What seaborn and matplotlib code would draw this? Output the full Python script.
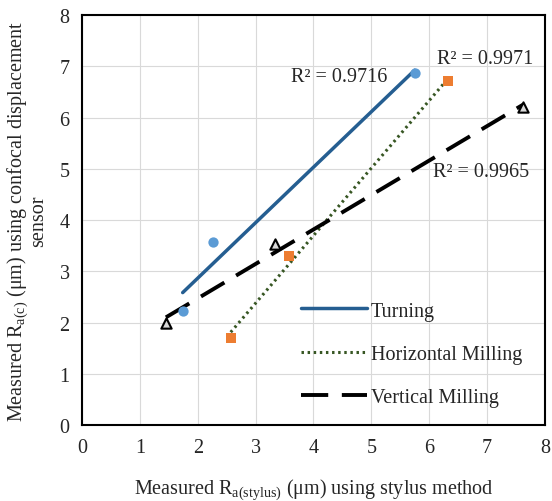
import matplotlib
matplotlib.use("Agg")
import matplotlib.pyplot as plt
import seaborn as sns
import numpy as np

turn_x = [1.74, 2.26, 5.75]
turn_y = [2.22, 3.57, 6.87]
hmill_x = [2.57, 3.58, 6.32]
hmill_y = [1.70, 3.30, 6.71]
vmill_x = [1.45, 3.33, 7.62]
vmill_y = [1.99, 3.53, 6.20]
series_names = ["Turning", "Horizontal Milling", "Vertical Milling"]
r2_labels = ["R² = 0.9716", "R² = 0.9971", "R² = 0.9965"]
ticks = list(range(0, 9))

sns.set_style("white")
plt.rcParams['font.family'] = ['Liberation Serif', 'DejaVu Serif']
plt.rcParams['mathtext.fontset'] = 'custom'
plt.rcParams['mathtext.rm'] = 'Liberation Serif'
plt.rcParams['mathtext.it'] = 'Liberation Serif:italic'

FS = 14.5
fig = plt.figure(figsize=(5.52, 5.02), dpi=100)
ax = fig.add_axes([0.1486, 0.151, 0.8384, 0.817])

# regression lines
sns.regplot(x=turn_x, y=turn_y, ax=ax, scatter=False, ci=None, truncate=True,
            line_kws=dict(color='#255E91', lw=2.5))
l1 = ax.lines[-1]
sns.regplot(x=hmill_x, y=hmill_y, ax=ax, scatter=False, ci=None, truncate=True,
            line_kws=dict(color='#375623', lw=2.2, ls=(0, (0.8, 1.2))))
l2 = ax.lines[-1]
sns.regplot(x=vmill_x, y=vmill_y, ax=ax, scatter=False, ci=None, truncate=True,
            line_kws=dict(color='black', lw=2.8, ls=(0, (7, 3.5))))
l3 = ax.lines[-1]

# points
sns.scatterplot(x=turn_x, y=turn_y, ax=ax, marker='o', s=55, color='#5B9BD5',
                edgecolor='#5B9BD5', linewidth=0, zorder=3, legend=False)
sns.scatterplot(x=hmill_x, y=hmill_y, ax=ax, marker='s', s=50, color='#ED7D31',
                edgecolor='#ED7D31', linewidth=0, zorder=3, legend=False)
sns.scatterplot(x=vmill_x, y=vmill_y, ax=ax, marker='^', s=55, color='#D9D9D9',
                edgecolor='black', linewidth=1.5, zorder=3, legend=False)

ax.set_xlim(0, 8)
ax.set_ylim(0, 8)
ax.set_xticks(ticks)
ax.set_yticks(ticks)
ax.tick_params(axis='both', labelsize=FS, length=0, pad=9)
ax.grid(True, color='#D9D9D9', lw=0.8)
ax.set_axisbelow(True)
for s in ax.spines.values():
    s.set_color('black')
    s.set_linewidth(1.5)

ax.set_xlabel(r"Measured R$_\mathregular{a(stylus)}$ ($\mathregular{\mu}$m) using stylus method",
              fontsize=FS, labelpad=14)
ax.set_ylabel("Measured R$_\\mathregular{a(c)}$ ($\\mathregular{\\mu}$m) using confocal displacement\nsensor",
              fontsize=FS, labelpad=8, linespacing=0.95)

ax.text(3.62, 6.80, r2_labels[0], fontsize=FS, ha='left', va='center')
ax.text(6.13, 7.15, r2_labels[1], fontsize=FS, ha='left', va='center')
ax.text(6.07, 4.94, r2_labels[2], fontsize=FS, ha='left', va='center')

leg = ax.legend([l1, l2, l3], series_names, loc='lower left', bbox_to_anchor=(0.435, 0.0),
                frameon=False, fontsize=FS, handlelength=3.25, labelspacing=1.2,
                handletextpad=0.2)

fig.savefig("out.png", dpi=100)
